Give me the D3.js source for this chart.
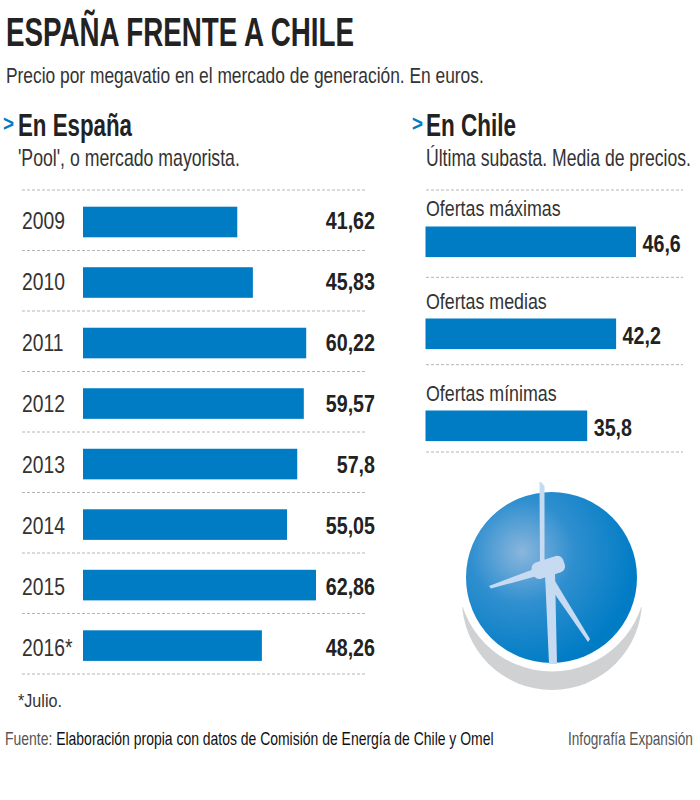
<!DOCTYPE html>
<html>
<head>
<meta charset="utf-8">
<script src="https://cdn.jsdelivr.net/npm/d3@7"></script>
<style>
  html, body { margin: 0; padding: 0; background: #fff; }
  text { font-family: "Liberation Sans", sans-serif; fill: #222; }
</style>
</head>
<body>
<div id="chart"></div>
<script>
const years = ["2009", "2010", "2011", "2012", "2013", "2014", "2015", "2016*"];
const spainValues = [41.62, 45.83, 60.22, 59.57, 57.8, 55.05, 62.86, 48.26];
const spainLabels = ["41,62", "45,83", "60,22", "59,57", "57,8", "55,05", "62,86", "48,26"];

const offers = ["Ofertas máximas", "Ofertas medias", "Ofertas mínimas"];
const chileValues = [46.6, 42.2, 35.8];
const chileLabels = ["46,6", "42,2", "35,8"];

const blue = "#007cc5";
const dash = "#b5b5b5";
const narrow = 0.8; // no condensed face installed, so squeeze the regular one

const svg = d3.select("#chart").append("svg")
  .attr("width", 700)
  .attr("height", 800)
  .style("display", "block");

// squeezes the text to the wanted width
function label(txt, x, y, size, opts = {}) {
  const t = svg.append("text")
    .style("font-size", size + "px")
    .style("font-weight", opts.bold ? "bold" : "normal")
    .style("fill", opts.fill || "#222")
    .text(txt);
  if (opts.tail) t.append("tspan").style("fill", "#111").text(opts.tail);
  const sx = opts.width ? opts.width / t.node().getComputedTextLength() : narrow;
  t.attr("transform", `translate(${x},${y}) scale(${sx},1)`);
  return t;
}

label("ESPAÑA FRENTE A CHILE", 6, 46, 41, { bold: true, width: 348 });
label("Precio por megavatio en el mercado de generación. En euros.", 6, 83, 22, { width: 478, fill: "#333" });

label(">", 3, 131, 22, { bold: true, fill: blue, width: 11 });
label("En España", 18, 136, 31, { bold: true, width: 114 });
label("'Pool', o mercado mayorista.", 18, 166, 23, { width: 222, fill: "#333" });

label(">", 412, 131, 22, { bold: true, fill: blue, width: 11 });
label("En Chile", 426, 136, 31, { bold: true, width: 90 });
label("Última subasta. Media de precios.", 426, 166, 23, { width: 265, fill: "#333" });

// Spain panel
const xSpain = d3.scaleLinear().domain([0, 62.86]).range([83, 316]);
const ySpain = d3.scalePoint().domain(years).range([206.7, 630.3]);
const yRuleSpain = d3.scalePoint().domain(d3.range(9)).range([190, 674]);
const yTextSpain = d3.scalePoint().domain(years).range([228.5, 656]);

const spain = svg.append("g").attr("class", "spain");

spain.selectAll("line")
  .data(yRuleSpain.domain())
  .join("line")
  .attr("x1", 22).attr("x2", 367)
  .attr("y1", (d) => yRuleSpain(d))
  .attr("y2", (d) => yRuleSpain(d));

spain.selectAll("rect")
  .data(years)
  .join("rect")
  .attr("x", xSpain(0))
  .attr("y", (d) => ySpain(d))
  .attr("width", (d, i) => xSpain(spainValues[i]) - xSpain(0))
  .attr("height", 30.6)
  .attr("fill", blue);

spain.selectAll("text.year")
  .data(years)
  .join("text")
  .attr("class", "year")
  .attr("transform", (d) => `translate(22,${yTextSpain(d)}) scale(0.84,1)`)
  .style("font-size", "23px")
  .style("fill", "#333")
  .text((d) => d);

spain.selectAll("text.value")
  .data(years)
  .join("text")
  .attr("class", "value")
  .attr("transform", (d) => `translate(375,${yTextSpain(d)}) scale(0.82,1)`)
  .attr("text-anchor", "end")
  .style("font-size", "24px")
  .style("font-weight", "bold")
  .text((d, i) => spainLabels[i]);

// Chile panel
const xChile = d3.scaleLinear().domain([0, 46.6]).range([425.5, 636]);
const yChile = d3.scalePoint().domain(offers).range([226.5, 410.5]);
const yRuleChile = d3.scalePoint().domain(d3.range(4)).range([190, 452]);
const yNameChile = d3.scalePoint().domain(offers).range([216, 401]);
const yValueChile = d3.scalePoint().domain(offers).range([252, 436]);

const chile = svg.append("g").attr("class", "chile");

chile.selectAll("line")
  .data(yRuleChile.domain())
  .join("line")
  .attr("x1", 426).attr("x2", 683)
  .attr("y1", (d) => yRuleChile(d))
  .attr("y2", (d) => yRuleChile(d));

chile.selectAll("rect")
  .data(offers)
  .join("rect")
  .attr("x", xChile(0))
  .attr("y", (d) => yChile(d))
  .attr("width", (d, i) => xChile(chileValues[i]) - xChile(0))
  .attr("height", 30.6)
  .attr("fill", blue);

chile.selectAll("text.offer")
  .data(offers)
  .join("text")
  .attr("class", "offer")
  .attr("transform", (d) => `translate(426,${yNameChile(d)}) scale(0.81,1)`)
  .style("font-size", "22px")
  .style("fill", "#333")
  .text((d) => d);

chile.selectAll("text.value")
  .data(offers)
  .join("text")
  .attr("class", "value")
  .attr("transform", (d, i) => `translate(${xChile(chileValues[i]) + 6.5},${yValueChile(d)}) scale(0.82,1)`)
  .style("font-size", "24px")
  .style("font-weight", "bold")
  .text((d, i) => chileLabels[i]);

svg.selectAll("line")
  .attr("stroke", dash)
  .attr("stroke-width", 1)
  .attr("stroke-dasharray", "3 2");

// footnotes
label("*Julio.", 18, 707, 19, { fill: "#333", width: 44 });
label("Fuente: ", 5, 745, 18, { fill: "#555", tail: "Elaboración propia con datos de Comisión de Energía de Chile y Omel", width: 489 });
label("Infografía Expansión", 568, 745, 18, { fill: "#555", width: 125 });

// wind turbine globe
const defs = svg.append("defs");
const grad = defs.append("radialGradient")
  .attr("id", "globe")
  .attr("gradientUnits", "userSpaceOnUse")
  .attr("cx", 522).attr("cy", 552).attr("r", 115);
grad.append("stop").attr("offset", "0").attr("stop-color", "#8ab6dd");
grad.append("stop").attr("offset", "0.45").attr("stop-color", "#2f8fcf");
grad.append("stop").attr("offset", "1").attr("stop-color", "#007cc5");

defs.append("clipPath").attr("id", "crescent")
  .append("rect").attr("x", 440).attr("y", 607).attr("width", 220).attr("height", 100);

const icon = svg.append("g").attr("class", "icon");
icon.append("circle")
  .attr("cx", 552).attr("cy", 600).attr("r", 90)
  .attr("fill", "#d0d1d3")
  .attr("clip-path", "url(#crescent)");
icon.append("circle").attr("cx", 552).attr("cy", 577.5).attr("r", 94).attr("fill", "#fff");
icon.append("circle").attr("cx", 551.5).attr("cy", 577.5).attr("r", 85.5).attr("fill", "url(#globe)");

const pale = "#c6daf1";
const shapes = [
  "M545 574 L555 574 L557 664 L549 664 Z",
  "M539.5 482 L541 482 L544.5 486 L544.5 566 L540 566 Z",
  "M534 569 L537 576 L491 588.5 L489 586 Z",
  "M545 580 L552 576 L590 639 L588 642 Z",
];
icon.selectAll("path")
  .data(shapes)
  .join("path")
  .attr("d", (d) => d)
  .attr("fill", pale);
icon.append("rect")
  .attr("x", 532).attr("y", 559).attr("width", 33).attr("height", 17).attr("rx", 6)
  .attr("transform", "rotate(-18 548 568)")
  .attr("fill", pale);
</script>
</body>
</html>
